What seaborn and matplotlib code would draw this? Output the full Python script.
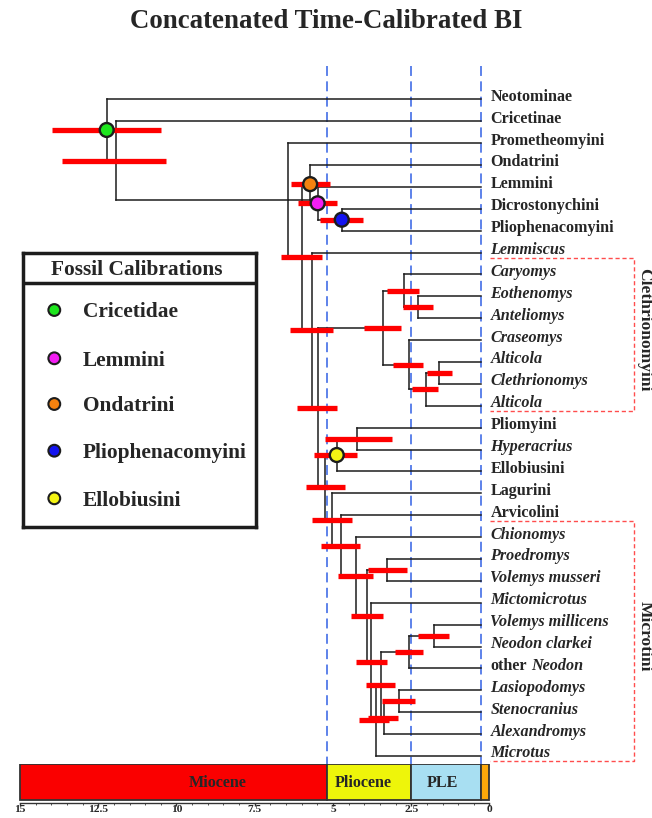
import numpy as np
import pandas as pd
import matplotlib
matplotlib.use("Agg")
import matplotlib.pyplot as plt
from matplotlib import font_manager as fm
import seaborn as sns

sns.set_theme(style="white")
SERIF = "Liberation Serif"
plt.rcParams["font.family"] = SERIF


def serif_font(style):
    for f in fm.fontManager.ttflist:
        if f.name == SERIF and f.style == style and f.weight in (700, "bold"):
            return fm.FontProperties(fname=f.fname)
    return fm.FontProperties(family=SERIF, weight="bold", style=style)


BOLD = serif_font("normal")
BOLD_IT = serif_font("italic")

# ---------------------------------------------------------------- data
title = "Concatenated Time-Calibrated BI"

tip_labels = ["Neotominae", "Cricetinae", "Prometheomyini", "Ondatrini", "Lemmini",
              "Dicrostonychini", "Pliophenacomyini", "Lemmiscus", "Caryomys", "Eothenomys",
              "Anteliomys", "Craseomys", "Alticola", "Clethrionomys", "Alticola",
              "Pliomyini", "Hyperacrius", "Ellobiusini", "Lagurini", "Arvicolini",
              "Chionomys", "Proedromys", "Volemys musseri", "Mictomicrotus",
              "Volemys millicens", "Neodon clarkei", "other Neodon", "Lasiopodomys",
              "Stenocranius", "Alexandromys", "Microtus"]
italic_tips = {"Lemmiscus", "Caryomys", "Eothenomys", "Anteliomys", "Craseomys", "Alticola",
               "Clethrionomys", "Hyperacrius", "Chionomys", "Proedromys", "Volemys musseri",
               "Mictomicrotus", "Volemys millicens", "Neodon clarkei", "Lasiopodomys",
               "Stenocranius", "Alexandromys", "Microtus"}
tree_tip_age = 0.26

node_names = ["root", "B", "C", "D", "O", "Mg", "Bl", "E", "F", "H", "I", "J", "K", "L", "M",
              "G", "Y", "N", "P", "Q", "R", "S", "T", "U", "BB", "Z", "X", "Y2", "AA", "W"]
node_children = [(0, "B"), (1, "C"), (2, "D"), ("O", "E"), (3, "Mg"), (4, "Bl"), (5, 6),
                 (7, "F"), ("H", "G"), ("I", "K"), (8, "J"), (9, 10), (11, "L"), ("M", 14),
                 (12, 13), ("Y", "P"), ("N", 17), (15, 16), (18, "Q"), (19, "R"), (20, "S"),
                 ("T", "U"), (21, 22), (23, "BB"), ("Z", 30), ("X", "AA"), ("Y2", 26),
                 (24, 25), ("W", 29), (27, 28)]
node_age = [12.23, 11.93, 6.43, 6.00, 5.73, 5.49, 4.72, 5.66, 5.49, 3.41, 2.73, 2.27, 2.58,
            2.04, 1.60, 5.24, 4.88, 4.22, 5.03, 4.74, 4.26, 3.91, 3.27, 3.78, 3.64, 3.48,
            2.57, 1.76, 3.37, 2.90]
hpd_old = [13.98, 13.66, np.nan, 6.66, 6.35, 6.11, 5.42, 6.37, 6.16, 4.00, 3.28, 2.75, 3.09,
           2.49, 1.99, 5.87, 5.60, 5.26, 5.68, 5.38, 4.83, 4.43, 3.89, 4.27, 4.16, 3.95,
           3.02, 2.27, 3.87, 3.42]
hpd_young = [10.50, 10.35, np.nan, 5.34, 5.10, 4.88, 4.03, 5.01, 4.88, 2.84, 2.24, 1.81, 2.12,
             1.64, 1.21, 4.62, 4.22, 3.11, 4.40, 4.14, 3.71, 3.40, 2.65, 3.28, 3.20, 3.02,
             2.13, 1.28, 2.91, 2.38]
crown_stub_end = 5.64   # the crown branch line runs on past node C

calib_nodes = ["root", "Mg", "O", "Bl", "Y"]
calib_labels = ["Cricetidae", "Lemmini", "Ondatrini", "Pliophenacomyini", "Ellobiusini"]
calib_colors = ["#1ee61e", "#f21ef2", "#f5820f", "#1414f0", "#f5f514"]

clade_names = ["Clethrionomyini", "Microtini"]
clade_first = [8, 20]
clade_last = [14, 30]

era_names = ["Miocene", "Pliocene", "PLE", ""]
era_start = [15.0, 5.2, 2.5, 0.26]
era_end = [5.2, 2.5, 0.26, 0.0]
era_colors = ["#fa0000", "#eef50a", "#a8dff2", "#fca80a"]
era_label_x = [8.7, 4.05, 1.5]

tick_values = [15, 12.5, 10, 7.5, 5, 2.5, 0]
tick_labels = ["15", "12.5", "10", "7.5", "5", "2.5", "0"]

# ---------------------------------------------------------------- layout
W_PX, H_PX = 652, 818
fig = plt.figure(figsize=(W_PX / 100, H_PX / 100), dpi=100)

X0, SX = 489.5, 31.3
Y0, SY = 99.3, 21.89


def ax_x(px):
    return (X0 - px) / SX


def ax_y(py):
    return (py - Y0) / SY


ax = fig.add_axes([0, 0, 1, 1])
ax.axis("off")

name_idx = {n: k for k, n in enumerate(node_names)}
ypos = {}
agepos = {}
for i in range(len(tip_labels)):
    ypos[i] = float(i)
    agepos[i] = tree_tip_age
for k, n in enumerate(node_names):
    agepos[n] = node_age[k]


def get_y(key):
    if key in ypos:
        return ypos[key]
    c1, c2 = node_children[name_idx[key]]
    y = (get_y(c1) + get_y(c2)) / 2.0
    ypos[key] = y
    return y


LINE = "#1c1c1c"
# era boundary dashed lines
ax.vlines(era_start[1:], ax_y(66), ax_y(764), colors="#5078e8", lw=1.3,
          linestyles=(0, (5.5, 3)), zorder=1)

# tree branches
for k, name in enumerate(node_names):
    c1, c2 = node_children[k]
    a = node_age[k]
    ax.vlines(a, get_y(c1), get_y(c2), color=LINE, lw=1.1, zorder=2, capstyle="projecting")
    for c in (c1, c2):
        ax.hlines(get_y(c), a, agepos[c], color=LINE, lw=1.1, zorder=2, capstyle="projecting")
ax.hlines(get_y("C"), node_age[name_idx["C"]], crown_stub_end, color=LINE, lw=1.1, zorder=2)

# HPD bars
for k, name in enumerate(node_names):
    if np.isnan(hpd_old[k]):
        continue
    ax.hlines(get_y(name), hpd_old[k], hpd_young[k], color="#ff0000", lw=3.8, zorder=3,
              capstyle="butt")

# calibration points
calib_df = pd.DataFrame({"age": [agepos[n] for n in calib_nodes],
                         "y": [get_y(n) for n in calib_nodes],
                         "group": calib_labels})
sns.scatterplot(data=calib_df, x="age", y="y", hue="group",
                palette=dict(zip(calib_labels, calib_colors)), s=100,
                edgecolor="#1c1c1c", linewidth=1.7, legend=False, zorder=5, ax=ax)

ax.set_xlim(ax_x(0), ax_x(W_PX))
ax.set_ylim(ax_y(H_PX), ax_y(0))

# tip labels
fig.canvas.draw()
lab_x = ax_x(490.5)
for i, lab in enumerate(tip_labels):
    if lab == "other Neodon":
        t1 = ax.text(lab_x, i + 0.065, "other", fontproperties=BOLD, fontsize=11.6,
                     va="baseline", ha="left")
        ax.annotate("Neodon", xy=(1, 0), xycoords=t1, xytext=(3, 0),
                    textcoords="offset points", fontproperties=BOLD_IT, fontsize=11.6,
                    va="bottom", ha="left")
    else:
        ax.text(lab_x, i + 0.065, lab,
                fontproperties=BOLD_IT if lab in italic_tips else BOLD, fontsize=11.6,
                va="baseline", ha="left")

# clade boxes
bx_l, bx_r = ax_x(490), ax_x(634)
for name, f, l in zip(clade_names, clade_first, clade_last):
    top, bot = f - 0.75, l + 0.23
    ax.plot([bx_l, bx_r, bx_r, bx_l], [top, top, bot, bot], color="#ff4d4d", lw=1.0,
            linestyle=(0, (3, 2)), zorder=1)
    ax.text(ax_x(644.5), (top + bot) / 2 - 0.2, name, rotation=270, fontproperties=BOLD,
            fontsize=12.6, ha="center", va="center")

# title
fig.text(0.5, 1 - 28 / H_PX, title, ha="center", va="baseline", fontproperties=BOLD,
         fontsize=19.4)

# ---------------------------------------------------------------- legend
lx0, ly0, lx1, ly1 = 22.7, 252.7, 256.0, 527.0
lax = fig.add_axes([lx0 / W_PX, 1 - ly1 / H_PX, (lx1 - lx0) / W_PX, (ly1 - ly0) / H_PX])
lax.set_facecolor("white")
leg_y = [57.3, 105.6, 151.3, 198.0, 245.6]
leg_df = pd.DataFrame({"x": [31.6] * len(calib_labels), "y": leg_y, "group": calib_labels})
sns.scatterplot(data=leg_df, x="x", y="y", hue="group",
                palette=dict(zip(calib_labels, calib_colors)), s=72,
                edgecolor="#1c1c1c", linewidth=1.5, legend=False, zorder=5, ax=lax)
lax.set_xlim(0, lx1 - lx0)
lax.set_ylim(ly1 - ly0, 0)
lax.set_xticks([])
lax.set_yticks([])
lax.set_xlabel("")
lax.set_ylabel("")
for sp in lax.spines.values():
    sp.set_visible(True)
    sp.set_linewidth(2.5)
    sp.set_color("#1c1c1c")
lax.axhline(30.6, color="#1c1c1c", lw=2.5)
lax.text(114, 22.3, "Fossil Calibrations", fontproperties=BOLD, fontsize=15.4,
         ha="center", va="baseline")
for yy, lab in zip(leg_y, calib_labels):
    lax.text(60, yy + 7.2, lab, fontproperties=BOLD, fontsize=15.4, ha="left", va="baseline")

# ---------------------------------------------------------------- time bar
AXIS_PY = 802.5
tax = fig.add_axes([0, (H_PX - AXIS_PY) / H_PX, 1, (AXIS_PY - 764) / H_PX])
tax.set_facecolor("none")
tax.set_xlim(ax_x(0), ax_x(W_PX))
tax.set_ylim(0, AXIS_PY - 764)
bar_h = 36
tax.barh(y=(AXIS_PY - 764) - bar_h / 2, width=[e - s for s, e in zip(era_start, era_end)],
         left=era_start, height=bar_h, color=era_colors, edgecolor="#333333", linewidth=1.3)
for name, xl in zip(era_names[:3], era_label_x):
    tax.text(xl, AXIS_PY - 786.7, name, fontproperties=BOLD, fontsize=11.6,
             ha="center", va="baseline")
for side in ("top", "right", "left"):
    tax.spines[side].set_visible(False)
tax.spines["bottom"].set_bounds(15, 0)
tax.spines["bottom"].set_color("#333333")
tax.spines["bottom"].set_linewidth(1.0)
tax.set_yticks([])
tax.set_xticks(tick_values)
tax.set_xticklabels(tick_labels)
for t in tax.get_xticklabels():
    t.set_fontproperties(BOLD)
    t.set_fontsize(8.2)
tax.set_xticks(np.arange(0, 15.01, 0.5), minor=True)
tax.tick_params(axis="x", which="both", bottom=True, color="#333333")
tax.tick_params(axis="x", which="major", length=2.0, width=1.0, pad=0)
tax.tick_params(axis="x", which="minor", length=1.2, width=0.6)

fig.savefig("out.png", dpi=100)
